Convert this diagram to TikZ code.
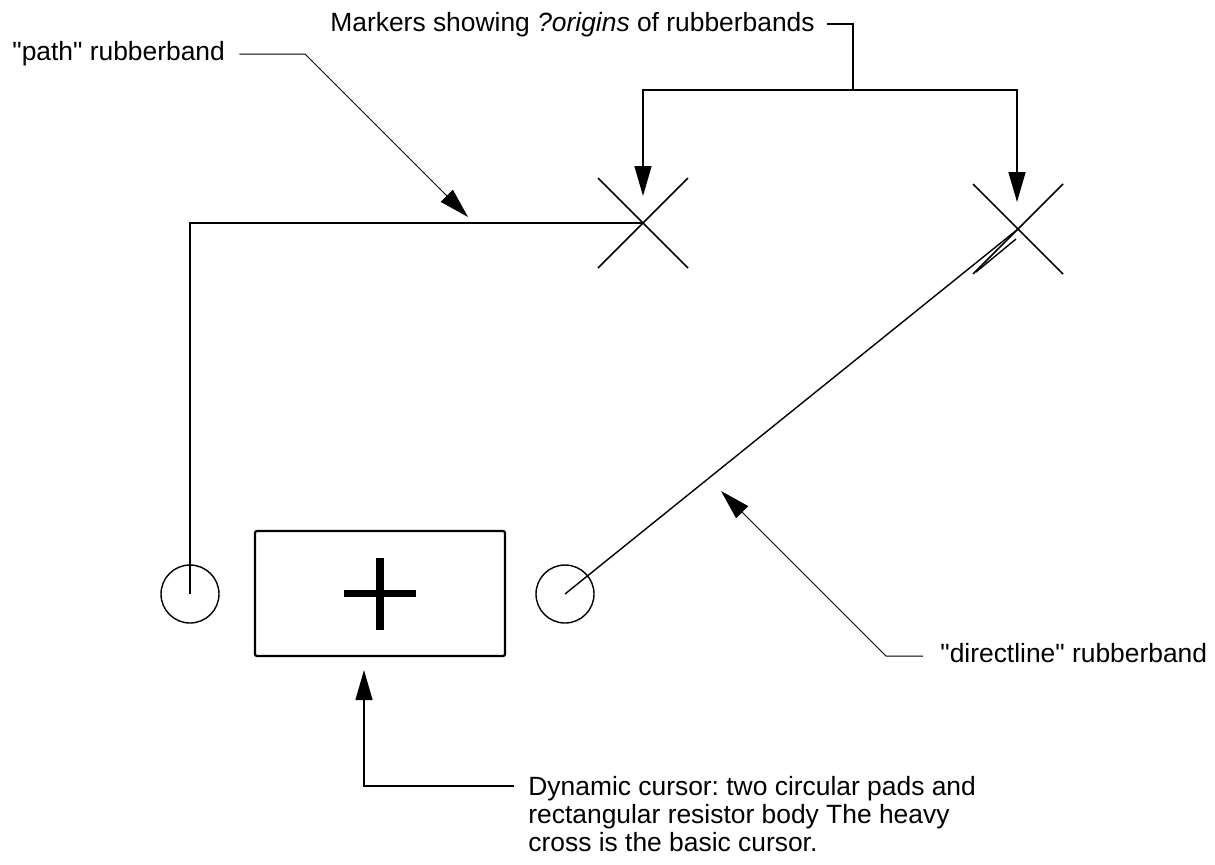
\documentclass[tikz,border=0pt]{standalone}
\usepackage{fontspec}
\setmainfont{Liberation Sans}[Ligatures=TeXOff]
\usetikzlibrary{arrows.meta,calc,positioning}

\tikzset{
	lbl/.style={inner sep=0pt, font=\fontsize{13.2}{14}\selectfont\frenchspacing},
	pad/.style={circle, draw, line width=0.7pt, minimum size=29pt, inner sep=0pt},
	body/.style={draw, line width=1.1pt, rounded corners=1pt, minimum width=125pt, minimum height=62.5pt, inner sep=0pt},
	band/.style={line width=1pt},
	dline/.style={line width=0.7pt},
	xmark/.style={line width=0.75pt},
	leader/.style={line width=0.5pt},
	bracket/.style={line width=0.8pt},
	tip/.style={-{Triangle[length=15pt,width=8.5pt]}}
}

\begin{document}
\begin{tikzpicture}[x=0.5pt,y=-0.5pt]
		%%%%% START %%%%%
		\useasboundingbox (0,0) rectangle (1215,864);
		
		% cursor: pads, body and heavy cross
		\node[pad] (padA) at (190,594) {};
		\node[pad] (padB) at (565,594) {};
		\node[body] (body) at (380,593.5) {};
		\draw[line width=3.6pt] (body.center) +(-36,0) -- +(36,0) +(0,-36) -- +(0,36);
		
		% origin markers
		\coordinate (markA) at (643,223);
		\coordinate (markB) at (1018,229);
		\foreach \m in {markA,markB}
			\draw[xmark] (\m) +(-45,-45) -- +(45,45) +(-45,45) -- +(45,-45);
		
		% rubberbands
		\draw[band] (padA.center) |- (markA);
		\draw[dline] (padB.center) -- (markB);
		\draw[dline] (976,272) -- (1016,239);
		
		% labels
		\node[lbl, anchor=base west] (pathlbl) at (12,60) {"path" rubberband};
		\node[lbl, anchor=base west] (mkrlbl) at (330,31) {Markers showing \textit{?origins} of rubberbands};
		\node[lbl, anchor=base west] (dlinelbl) at (940,662) {"directline" rubberband};
		\node[lbl, anchor=north west, align=left] (cursorlbl) at (528,776) {Dynamic cursor: two circular pads and\\rectangular resistor body The heavy\\cross is the basic cursor.};
		
		% leaders
		\coordinate (pathtip) at (468,217);
		\coordinate (pathbend) at ($(pathtip)+(-163,-163)$);
		\draw[leader, tip] ($(pathlbl.east |- pathbend)+(14,0)$) -- (pathbend) -- (pathtip);
		
		\coordinate (mkrjoin) at (853,90);
		\coordinate (tipA) at (643,196);
		\coordinate (tipB) at (1017,202);
		\draw[bracket] ($(mkrlbl.east -| mkrjoin)+(-26,0)$) -- (mkrlbl.east -| mkrjoin) -- (mkrjoin);
		\draw[bracket, tip] (mkrjoin) -| (tipA);
		\draw[bracket, tip] (mkrjoin) -| (tipB);
		
		\coordinate (dlinetip) at (721,491);
		\coordinate (dlinebend) at ($(dlinetip)+(165,165)$);
		\draw[leader, tip] ($(dlinelbl.west |- dlinebend)+(-17,0)$) -- (dlinebend) -- (dlinetip);
		
		\coordinate (cursortip) at ($(body.south)+(-16,13)$);
		\coordinate (cursorbend) at (364,786);
		\draw[bracket, tip] ($(cursorlbl.north west |- cursorbend)+(-14,0)$) -- (cursorbend) -- (cursortip);
		
		%%%%% END %%%%%
\end{tikzpicture}
\end{document}
